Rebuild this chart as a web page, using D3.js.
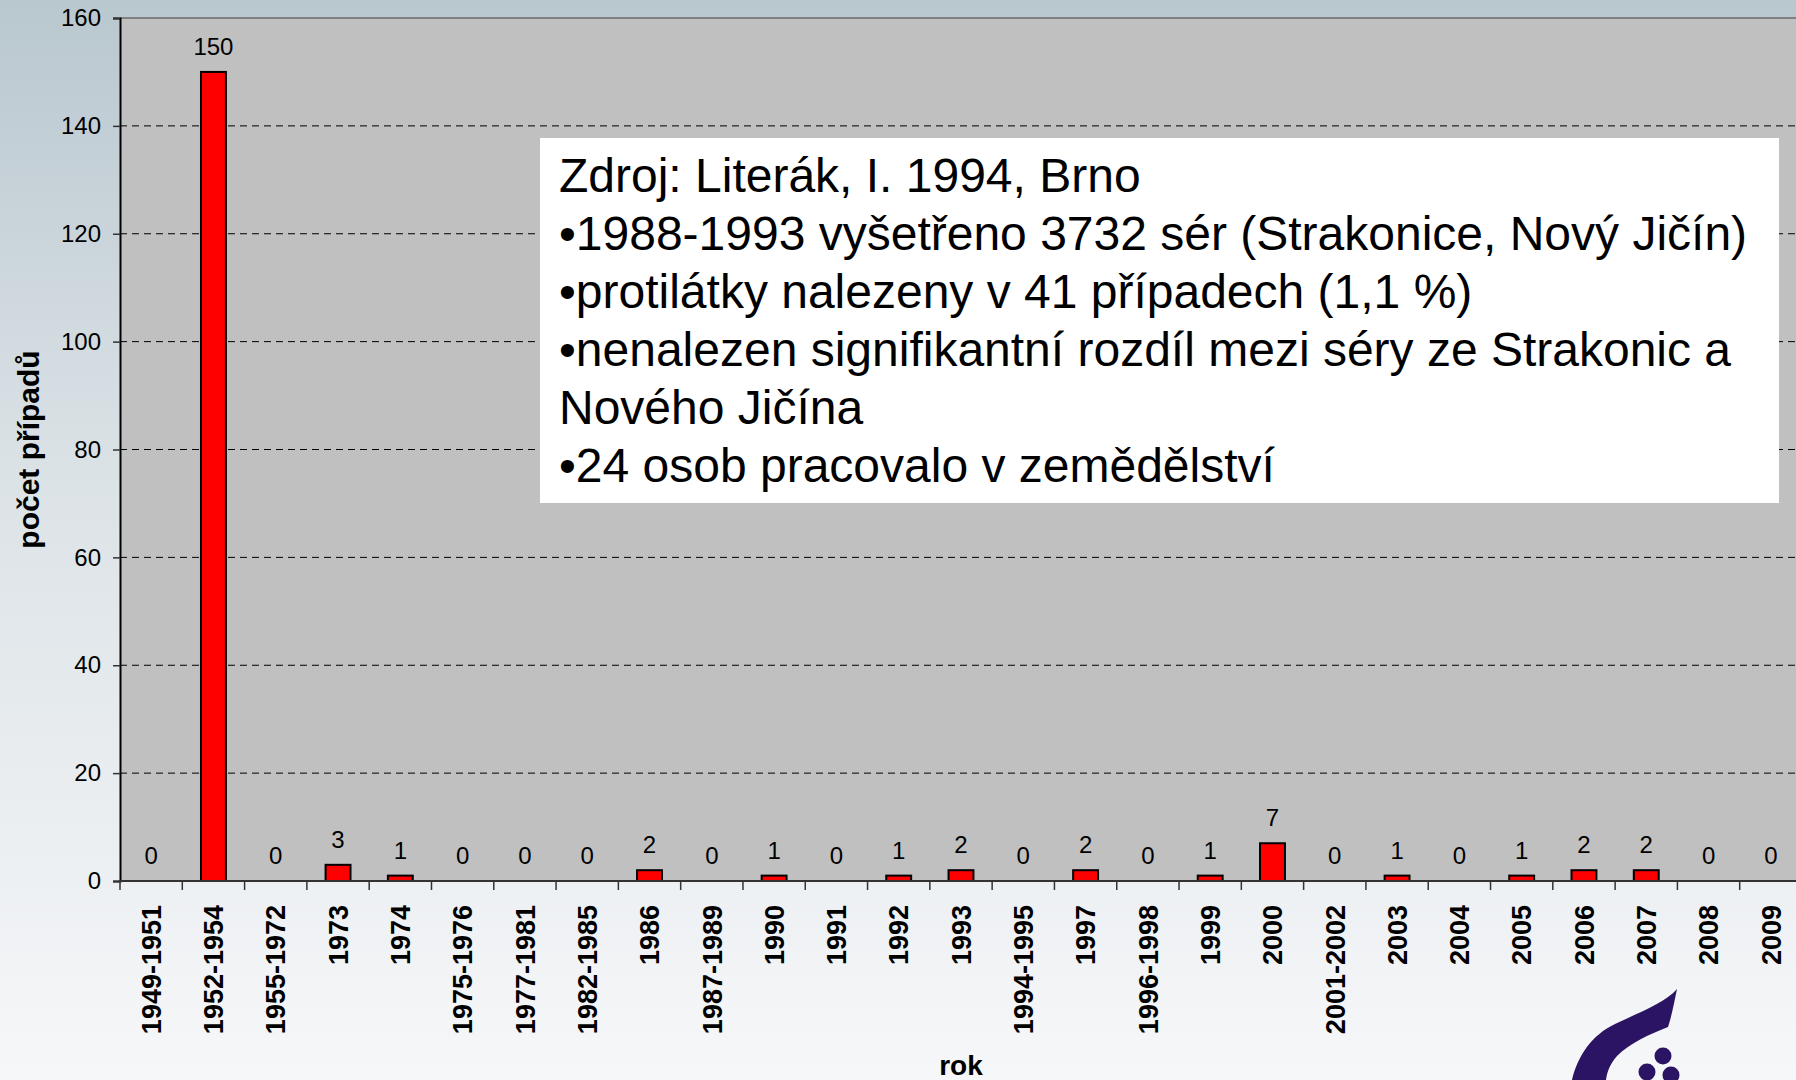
<!DOCTYPE html>
<html><head><meta charset="utf-8">
<script src="https://cdn.jsdelivr.net/npm/d3@7"></script>
<style>html,body{margin:0;padding:0;overflow:hidden;background:#fff}svg{display:block}</style>
</head><body>
<svg id="chart" width="1796" height="1080"></svg>
<script>
const categories = ["1949-1951","1952-1954","1955-1972","1973","1974","1975-1976","1977-1981","1982-1985","1986","1987-1989","1990","1991","1992","1993","1994-1995","1997","1996-1998","1999","2000","2001-2002","2003","2004","2005","2006","2007","2008","2009"];
const values = [0,150,0,3,1,0,0,0,2,0,1,0,1,2,0,2,0,1,7,0,1,0,1,2,2,0,0];
const yTicks = [0,20,40,60,80,100,120,140,160];
const yTitle = "počet případů";
const xTitle = "rok";
const noteLines = [
  "Zdroj: Literák, I. 1994, Brno",
  "•1988-1993 vyšetřeno 3732 sér (Strakonice, Nový Jičín)",
  "•protilátky nalezeny v 41 případech (1,1 %)",
  "•nenalezen signifikantní rozdíl mezi séry ze Strakonic a",
  "Nového Jičína",
  "•24 osob pracovalo v zemědělství"
];

const svg = d3.select("#chart");
const W = 1796, H = 1080;
const FONT = "'Liberation Sans', Arial, sans-serif";

// background gradient
const defs = svg.append("defs");
const g = defs.append("linearGradient").attr("id","bg").attr("x1",0).attr("y1",0).attr("x2",0).attr("y2",1);
g.append("stop").attr("offset","0%").attr("stop-color","#b9c7cf");
g.append("stop").attr("offset","45%").attr("stop-color","#dce3e7");
g.append("stop").attr("offset","100%").attr("stop-color","#f6f7f9");
svg.append("rect").attr("width",W).attr("height",H).attr("fill","url(#bg)");

const pLeft = 120, pRight = 1802, pTop = 18, pBottom = 881;
const x = d3.scaleBand().domain(categories).range([pLeft,pRight]).paddingInner(0.6).paddingOuter(0.3);
const y = d3.scaleLinear().domain([0,160]).range([pBottom,pTop]);

// plot area
svg.append("rect").attr("x",pLeft).attr("y",pTop).attr("width",pRight-pLeft).attr("height",pBottom-pTop).attr("fill","#c0c0c0");

// gridlines
svg.append("g").selectAll("line").data(yTicks.filter(d=>d>0 && d<160)).join("line")
  .attr("x1",pLeft).attr("x2",pRight).attr("y1",d=>y(d)).attr("y2",d=>y(d))
  .attr("stroke","#000").attr("stroke-width",1).attr("stroke-dasharray","7,5");

// top border
svg.append("line").attr("x1",pLeft).attr("x2",pRight).attr("y1",y(160)).attr("y2",y(160))
  .attr("stroke","#808080").attr("stroke-width",2);

// bars
svg.append("g").selectAll("rect").data(values).join("rect")
  .attr("x",(d,i)=>x(categories[i])).attr("width",x.bandwidth())
  .attr("y",d=>y(d)).attr("height",d=>y(0)-y(d))
  .attr("fill","#ff0000").attr("stroke","#000").attr("stroke-width",2);

// value labels
svg.append("g").selectAll("text").data(values).join("text")
  .attr("x",(d,i)=>x(categories[i])+x.bandwidth()/2)
  .attr("y",d=>y(d)-17)
  .attr("text-anchor","middle").attr("font-family",FONT).attr("font-size",24).attr("fill","#000")
  .text(d=>d);

// y axis
const yAxis = svg.append("g").attr("transform",`translate(${pLeft},0)`)
  .call(d3.axisLeft(y).tickValues(yTicks).tickSize(7).tickPadding(12));
yAxis.select(".domain").attr("stroke","#000").attr("stroke-width",2);
yAxis.selectAll(".tick line").attr("stroke","#333").attr("stroke-width",1.5);
yAxis.selectAll("text").attr("font-family",FONT).attr("font-size",24).attr("fill","#000");

// x axis
const gap = x.step() - x.bandwidth();
const bounds = categories.map(c=>x(c)-gap/2).concat([x(categories[categories.length-1])+x.bandwidth()+gap/2]);
svg.append("line").attr("x1",pLeft).attr("x2",pRight).attr("y1",y(0)).attr("y2",y(0)).attr("stroke","#333").attr("stroke-width",2);
svg.append("g").selectAll("line").data(bounds).join("line")
  .attr("x1",d=>d).attr("x2",d=>d).attr("y1",y(0)).attr("y2",y(0)+9)
  .attr("stroke","#333").attr("stroke-width",1.5);
svg.append("g").selectAll("text").data(categories).join("text")
  .attr("transform",d=>`translate(${x(d)+x.bandwidth()/2},${y(0)+24}) rotate(-90)`)
  .attr("text-anchor","end").attr("dy","0.36em")
  .attr("font-family",FONT).attr("font-size",27).attr("font-weight","bold").attr("fill","#000")
  .text(d=>d);

// axis titles
svg.append("text").attr("x",(pLeft+pRight)/2).attr("y",1075).attr("text-anchor","middle")
  .attr("font-family",FONT).attr("font-size",28).attr("font-weight","bold").text(xTitle);
svg.append("text").attr("transform",`translate(39,${(pTop+pBottom)/2}) rotate(-90)`).attr("text-anchor","middle")
  .attr("font-family",FONT).attr("font-size",30).attr("font-weight","bold").text(yTitle);

// note box
svg.append("rect").attr("x",540).attr("y",138).attr("width",1239).attr("height",365).attr("fill","#fff");
svg.append("g").selectAll("text").data(noteLines).join("text")
  .attr("x",559).attr("y",(d,i)=>192+i*58)
  .attr("font-family",FONT).attr("font-size",48).attr("fill","#000").text(d=>d);

// logo (decoration)
const logo = svg.append("g").attr("fill","#2b1463");
logo.append("path").attr("d","M1572,1080 C1578,1055 1592,1035 1615,1024 C1640,1012 1665,1003 1677,989 C1674,1003 1672,1015 1668,1027 C1650,1034 1630,1043 1617,1056 C1610,1064 1607,1072 1606,1080 Z");
[[1663,1056],[1647,1072],[1671,1075]].forEach(c=>logo.append("circle").attr("cx",c[0]).attr("cy",c[1]).attr("r",8.5));
</script>
</body></html>
